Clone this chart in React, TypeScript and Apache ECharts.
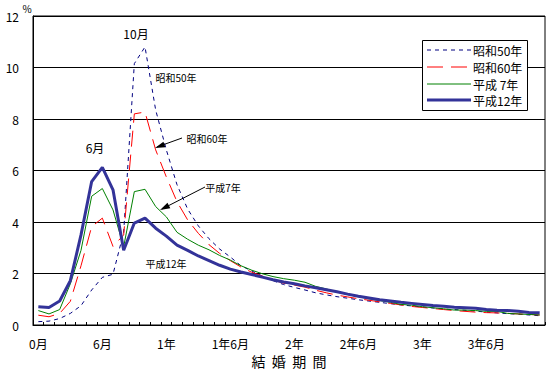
import React, { useEffect, useRef } from "react";
import * as echarts from "echarts";

const seriesNames = ["昭和50年", "昭和60年", "平成 7年", "平成12年"];
const seriesColors = ["#000080", "#ff0000", "#008000", "#333399"];
const seriesWidths = [1, 1, 1, 3];
const seriesDash: (number[] | null)[] = [[4, 4], [16, 8], null, null];
const months = Array.from({ length: 48 }, (_, i) => i);
const tickLabels: Record<number, string> = {
  0: "0月", 6: "6月", 12: "1年", 18: "1年6月", 24: "2年", 30: "2年6月", 36: "3年", 42: "3年6月",
};

const s50 = [0.13, 0.15, 0.25, 0.45, 0.75, 1.36, 1.85, 1.97, 3.6, 10.15, 10.8, 8.35, 6.8, 5.45, 4.5, 3.85, 3.35, 2.95, 2.64, 2.3, 2.1, 1.9, 1.72, 1.57, 1.46, 1.36, 1.25, 1.17, 1.1, 1.04, 0.98, 0.93, 0.88, 0.83, 0.78, 0.74, 0.7, 0.66, 0.62, 0.6, 0.57, 0.54, 0.5, 0.47, 0.44, 0.42, 0.39, 0.36];
const s60 = [0.38, 0.32, 0.45, 0.92, 2.3, 3.82, 4.15, 3.05, 3.5, 8.2, 8.27, 6.8, 5.75, 4.79, 4.08, 3.56, 3.12, 2.78, 2.5, 2.25, 2.05, 1.9, 1.75, 1.62, 1.55, 1.47, 1.35, 1.25, 1.16, 1.09, 1.02, 0.96, 0.9, 0.84, 0.78, 0.72, 0.68, 0.64, 0.6, 0.56, 0.53, 0.5, 0.48, 0.47, 0.45, 0.43, 0.41, 0.39];
const h07 = [0.56, 0.43, 0.6, 1.6, 2.9, 5.0, 5.3, 4.47, 3.04, 5.18, 5.27, 4.6, 4.2, 3.6, 3.33, 3.1, 2.92, 2.7, 2.52, 2.3, 2.13, 1.99, 1.88, 1.8, 1.74, 1.66, 1.5, 1.4, 1.28, 1.18, 1.1, 1.02, 0.95, 0.88, 0.8, 0.77, 0.71, 0.67, 0.63, 0.58, 0.58, 0.56, 0.53, 0.53, 0.45, 0.43, 0.41, 0.39];
const h12 = [0.71, 0.68, 0.93, 1.72, 3.5, 5.57, 6.12, 5.25, 2.9, 3.96, 4.15, 3.76, 3.45, 3.1, 2.9, 2.68, 2.5, 2.32, 2.17, 2.06, 1.96, 1.86, 1.76, 1.67, 1.6, 1.52, 1.45, 1.37, 1.29, 1.2, 1.12, 1.05, 0.98, 0.93, 0.88, 0.84, 0.8, 0.76, 0.73, 0.69, 0.67, 0.65, 0.6, 0.57, 0.56, 0.53, 0.49, 0.48];
const seriesData = [s50, s60, h07, h12];

const FONT = "'Noto Sans CJK JP', 'DejaVu Sans', sans-serif";

export default function App() {
  const ref = useRef<HTMLDivElement>(null);
  useEffect(() => {
    if (!ref.current) return;
    const chart = echarts.init(ref.current, undefined, { renderer: "svg" });
    const txt = (text: string, x: number, y: number, size = 11, align = "center") => ({
      type: "text",
      x,
      y,
      z: 10,
      style: { text, fill: "#000", font: `${size}px ${FONT}`, textAlign: align, textVerticalAlign: "middle" },
    });
    const legendRows = [50, 67, 84, 100];
    const legendItems: any[] = [
      { type: "rect", z: 10, shape: { x: 422.5, y: 40.5, width: 105, height: 70 }, style: { fill: "#fff", stroke: "#000", lineWidth: 1 } },
    ];
    seriesNames.forEach((n, i) => {
      legendItems.push({
        type: "line",
        z: 11,
        shape: { x1: 427, y1: legendRows[i], x2: 471, y2: legendRows[i] },
        style: { stroke: seriesColors[i], lineWidth: seriesWidths[i], lineDash: seriesDash[i] || undefined },
      });
      legendItems.push(txt(n, 473, legendRows[i], 12, "left"));
    });
    chart.setOption({
      animation: false,
      backgroundColor: "#fff",
      textStyle: { fontFamily: FONT },
      grid: { left: 33, right: 5, top: 16, bottom: 45, show: true, borderColor: "#000", borderWidth: 1, outerBoundsMode: "none", containLabel: false },
      xAxis: {
        type: "category",
        data: months,
        boundaryGap: true,
        name: "結  婚  期  間",
        nameLocation: "middle",
        nameGap: 27,
        nameTextStyle: { fontSize: 14, color: "#000", fontFamily: FONT },
        axisLine: { lineStyle: { color: "#000", width: 1 } },
        axisTick: { show: true, inside: true, length: 3, interval: 0, lineStyle: { color: "#000" } },
        axisLabel: {
          interval: (i: number) => i % 6 === 0,
          formatter: (v: string) => tickLabels[Number(v)] ?? "",
          color: "#000",
          fontSize: 12,
          margin: 12,
          fontFamily: FONT,
        },
        splitLine: { show: false },
      },
      yAxis: {
        type: "value",
        min: 0,
        max: 12,
        interval: 2,
        axisLine: { show: true, lineStyle: { color: "#000" } },
        axisTick: { show: false },
        axisLabel: { color: "#000", fontSize: 12, margin: 14, fontFamily: FONT },
        splitLine: { lineStyle: { color: "#000", width: 1 } },
      },
      series: seriesNames.map((n, i) => ({
        name: n,
        type: "line",
        data: seriesData[i],
        symbol: "none",
        lineStyle: { color: seriesColors[i], width: seriesWidths[i], type: seriesDash[i] || "solid" },
        itemStyle: { color: seriesColors[i] },
      })),
      graphic: [
        txt("%", 27, 8, 10),
        txt("10月", 136, 33, 12),
        txt("6月", 95, 147, 12),
        txt("昭和50年", 176, 77, 10),
        txt("昭和60年", 207, 138, 10),
        txt("平成7年", 223, 187, 10),
        txt("平成12年", 166, 263, 10),
        { type: "line", z: 10, shape: { x1: 182, y1: 138, x2: 157, y2: 147 }, style: { stroke: "#000", lineWidth: 1 } },
        { type: "polygon", z: 10, shape: { points: [[155, 148], [165.4, 147.3], [163.4, 141.7]] }, style: { fill: "#000" } },
        { type: "line", z: 10, shape: { x1: 205, y1: 187, x2: 162, y2: 209 }, style: { stroke: "#000", lineWidth: 1 } },
        { type: "polygon", z: 10, shape: { points: [[160, 210], [170.3, 208.2], [167.5, 202.8]] }, style: { fill: "#000" } },
        ...legendItems,
      ],
    });
    return () => chart.dispose();
  }, []);
  return <div ref={ref} style={{ position: "fixed", left: 0, top: 0, width: 550, height: 370 }} />;
}
